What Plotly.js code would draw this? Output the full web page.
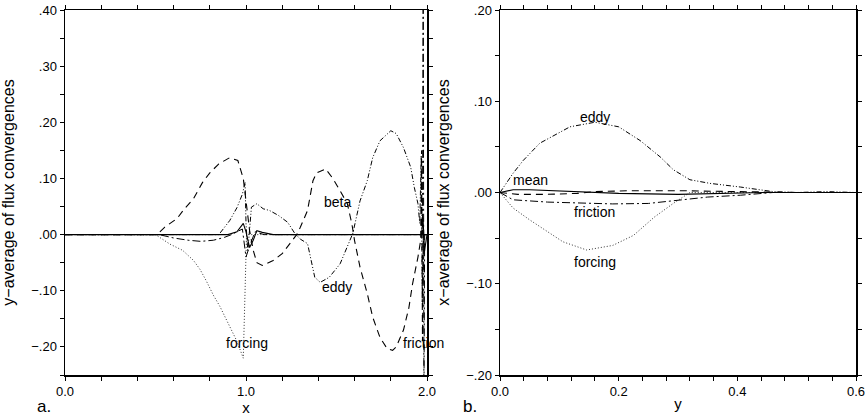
<!DOCTYPE html>
<html><head><meta charset="utf-8">
<script src="https://cdn.plot.ly/plotly-3.0.1.min.js"></script>
<style>html,body{margin:0;padding:0;background:#fff}#chart{width:868px;height:418px}</style>
</head><body><div id="chart"></div>
<script>
// ---------- panel a: y-average vs x ----------
const aMeanX = [0, 0.9, 0.95, 0.985, 1.0, 1.02, 1.04, 1.06, 1.09, 1.15, 1.97, 1.978, 1.986, 2.0];
const aMeanY = [0, 0, 0.005, 0.02, 0.005, -0.023, -0.01, 0.007, 0.004, 0, 0, 0.03, -0.03, 0];

const aBetaX = [0, 0.508, 0.55, 0.62, 0.66, 0.71, 0.76, 0.80, 0.85, 0.91, 0.955, 0.985, 1.0, 1.02, 1.04, 1.06, 1.09, 1.15, 1.2, 1.26, 1.28, 1.30, 1.34, 1.37, 1.39, 1.44, 1.48, 1.52, 1.56, 1.585, 1.60, 1.63, 1.67, 1.70, 1.74, 1.78, 1.81, 1.83, 1.87, 1.9, 1.92, 1.95, 1.965, 1.97, 1.975, 1.98, 2.0];
const aBetaY = [0, 0, 0.013, 0.029, 0.046, 0.064, 0.093, 0.11, 0.126, 0.137, 0.132, 0.10, 0.06, 0.007, -0.028, -0.05, -0.055, -0.046, -0.034, -0.01, 0, 0.013, 0.043, 0.096, 0.11, 0.117, 0.10, 0.078, 0.055, 0.019, -0.011, -0.058, -0.105, -0.147, -0.183, -0.203, -0.206, -0.2, -0.17, -0.13, -0.088, -0.04, -0.01, 0.15, -0.19, 0, 0];

const aEddyX = [0, 0.85, 0.91, 0.95, 0.98, 0.995, 1.0, 1.01, 1.03, 1.06, 1.095, 1.13, 1.18, 1.23, 1.27, 1.30, 1.34, 1.36, 1.38, 1.41, 1.46, 1.52, 1.56, 1.59, 1.63, 1.67, 1.70, 1.74, 1.80, 1.83, 1.87, 1.91, 1.93, 1.95, 1.96, 1.968, 1.974, 1.98, 2.0];
const aEddyY = [0, 0, 0.025, 0.048, 0.072, 0.093, 0.02, -0.03, 0.049, 0.055, 0.046, 0.043, 0.034, 0.022, 0.002, -0.008, -0.016, -0.046, -0.076, -0.085, -0.076, -0.052, -0.023, 0.002, 0.06, 0.096, 0.137, 0.167, 0.185, 0.18, 0.155, 0.12, 0.084, 0.055, 0.02, 0.14, -0.12, 0, 0];

const aForcingX = [0, 0.5, 0.58, 0.65, 0.71, 0.746, 0.78, 0.82, 0.856, 0.895, 0.95, 0.985, 1.003, 2.0];
const aForcingY = [0, 0, -0.017, -0.028, -0.046, -0.062, -0.082, -0.108, -0.128, -0.155, -0.19, -0.22, 0, 0];

const aFrictionX = [0, 0.52, 0.6, 0.68, 0.75, 0.82, 0.88, 0.92, 0.98, 1.0, 1.02, 1.05, 1.1, 1.975, 1.979, 1.983, 1.987, 2.0];
const aFrictionY = [0, 0, -0.006, -0.01, -0.012, -0.01, -0.005, 0, 0.01, -0.04, -0.02, 0.005, 0, 0, 0.5, -0.3, 0, 0];

// ---------- panel b: x-average vs y ----------
const bMeanX = [0, 0.022, 0.05, 0.13, 0.2, 0.3, 0.4, 0.45, 0.6];
const bMeanY = [0, 0.003, 0.003, 0.001, -0.001, -0.002, -0.001, 0, 0];

const bBetaX = [0, 0.03, 0.08, 0.13, 0.16, 0.22, 0.3, 0.4, 0.5, 0.6];
const bBetaY = [0, -0.002, -0.002, -0.001, 0.001, 0.002, 0.002, 0.001, 0, 0];

const bEddyX = [0, 0.022, 0.039, 0.067, 0.118, 0.16, 0.2, 0.236, 0.27, 0.292, 0.32, 0.354, 0.405, 0.46, 0.5, 0.55, 0.6];
const bEddyY = [0, 0.021, 0.035, 0.054, 0.072, 0.077, 0.072, 0.057, 0.039, 0.025, 0.014, 0.01, 0.006, 0.001, 0, 0.001, 0];

const bFrictionX = [0, 0.022, 0.08, 0.135, 0.19, 0.25, 0.29, 0.35, 0.405, 0.46, 0.6];
const bFrictionY = [0, -0.008, -0.0105, -0.0115, -0.0125, -0.012, -0.009, -0.005, -0.003, 0, 0];

const bForcingX = [0, 0.022, 0.05, 0.08, 0.106, 0.146, 0.19, 0.225, 0.26, 0.292, 0.32, 0.6];
const bForcingY = [0, -0.017, -0.030, -0.043, -0.054, -0.063, -0.058, -0.047, -0.027, -0.012, 0, 0];

// ---------- ticks ----------
const aXTickVals = [0, 0.2, 0.4, 0.6, 0.8, 1.0, 1.2, 1.4, 1.6, 1.8, 2.0];
const aXTickText = ["0.0", "", "", "", "", "1.0", "", "", "", "", "2.0"];
const aYTickVals = [0.40, 0.35, 0.30, 0.25, 0.20, 0.15, 0.10, 0.05, 0, -0.05, -0.10, -0.15, -0.20, -0.25];
const aYTickText = [".40", "", ".30", "", ".20", "", ".10", "", ".00", "", "\u2212.10", "", "\u2212.20", ""];
const bXTickVals = [0, 0.04, 0.08, 0.12, 0.16, 0.2, 0.24, 0.28, 0.32, 0.36, 0.4, 0.44, 0.48, 0.52, 0.56, 0.6];
const bXTickText = ["0.0", "", "", "", "", "0.2", "", "", "", "", "0.4", "", "", "", "", "0.6"];
const bYTickVals = [0.20, 0.15, 0.10, 0.05, 0, -0.05, -0.10, -0.15, -0.20];
const bYTickText = [".20", "", ".10", "", ".00", "", "\u2212.10", "", "\u2212.20"];

const FONT = "Liberation Sans, Arial, sans-serif";
const styles = {
  mean: {color: "#000", width: 1.1, dash: "solid"},
  beta: {color: "#000", width: 1.1, dash: "7px,5px"},
  eddy: {color: "#000", width: 1.0, dash: "5px,2px,1px,2px,1px,2px"},
  forcing: {color: "#333", width: 1.0, dash: "1px,2px"},
  friction: {color: "#000", width: 1.0, dash: "8px,3px,2px,3px"}
};
function tr(x, y, s, xa, ya) {
  return {x: x, y: y, type: "scatter", mode: "lines", line: styles[s], xaxis: xa, yaxis: ya, showlegend: false, hoverinfo: "skip"};
}
const data = [
  tr(aForcingX, aForcingY, "forcing", "x", "y"),
  tr(aFrictionX, aFrictionY, "friction", "x", "y"),
  tr(aEddyX, aEddyY, "eddy", "x", "y"),
  tr(aBetaX, aBetaY, "beta", "x", "y"),
  tr(aMeanX, aMeanY, "mean", "x", "y"),
  tr(bForcingX, bForcingY, "forcing", "x2", "y2"),
  tr(bFrictionX, bFrictionY, "friction", "x2", "y2"),
  tr(bEddyX, bEddyY, "eddy", "x2", "y2"),
  tr(bBetaX, bBetaY, "beta", "x2", "y2"),
  tr(bMeanX, bMeanY, "mean", "x2", "y2")
];

const axBase = {
  showline: true, linecolor: "#000", linewidth: 1.5, mirror: "ticks",
  ticks: "outside", ticklen: 4, tickwidth: 1, tickcolor: "#000",
  showgrid: false, zeroline: false, automargin: false,
  tickfont: {family: FONT, size: 13, color: "#000"}, tickmode: "array"
};
const titleFont = {family: FONT, size: 15, color: "#000"};
const ytitleFont = {family: FONT, size: 16, color: "#000"};
const lblFont = {family: FONT, size: 14, color: "#000"};

const layout = {
  width: 868, height: 418,
  margin: {l: 0, r: 0, t: 0, b: 0},
  paper_bgcolor: "#fff", plot_bgcolor: "#fff",
  xaxis: Object.assign({}, axBase, {domain: [65/868, 427/868], range: [0, 2], tickvals: aXTickVals, ticktext: aXTickText, anchor: "y", title: {text: "x", font: titleFont, standoff: 0}}),
  yaxis: Object.assign({}, axBase, {domain: [43/418, 408/418], range: [-0.25, 0.40], tickvals: aYTickVals, ticktext: aYTickText, anchor: "x", title: {text: "y\u2212average of flux convergences", font: ytitleFont, standoff: 12}}),
  xaxis2: Object.assign({}, axBase, {domain: [500/868, 856/868], range: [0, 0.6], tickvals: bXTickVals, ticktext: bXTickText, anchor: "y2", title: {text: "y", font: titleFont, standoff: 0}}),
  yaxis2: Object.assign({}, axBase, {domain: [43/418, 408/418], range: [-0.20, 0.20], tickvals: bYTickVals, ticktext: bYTickText, anchor: "x2", title: {text: "x\u2212average of flux convergences", font: ytitleFont, standoff: 12}}),
  annotations: [
    {text: "beta", x: 1.503, y: 0.058, xref: "x", yref: "y", showarrow: false, font: lblFont},
    {text: "eddy", x: 1.503, y: -0.093, xref: "x", yref: "y", showarrow: false, font: lblFont},
    {text: "forcing", x: 1.006, y: -0.193, xref: "x", yref: "y", showarrow: false, font: lblFont},
    {text: "friction", x: 1.978, y: -0.193, xref: "x", yref: "y", showarrow: false, font: lblFont},
    {text: "eddy", x: 0.16, y: 0.0827, xref: "x2", yref: "y2", showarrow: false, font: lblFont},
    {text: "mean", x: 0.0506, y: 0.0137, xref: "x2", yref: "y2", showarrow: false, font: lblFont},
    {text: "friction", x: 0.16, y: -0.0214, xref: "x2", yref: "y2", showarrow: false, font: lblFont},
    {text: "forcing", x: 0.16, y: -0.0762, xref: "x2", yref: "y2", showarrow: false, font: lblFont},
    {text: "a.", x: 35/868, y: 0, xref: "paper", yref: "paper", yanchor: "bottom", showarrow: false, font: {family: FONT, size: 17, color: "#000"}},
    {text: "b.", x: 470/868, y: 0, xref: "paper", yref: "paper", yanchor: "bottom", showarrow: false, font: {family: FONT, size: 17, color: "#000"}}
  ]
};
Plotly.newPlot("chart", data, layout, {staticPlot: true, displayModeBar: false});
</script></body></html>
